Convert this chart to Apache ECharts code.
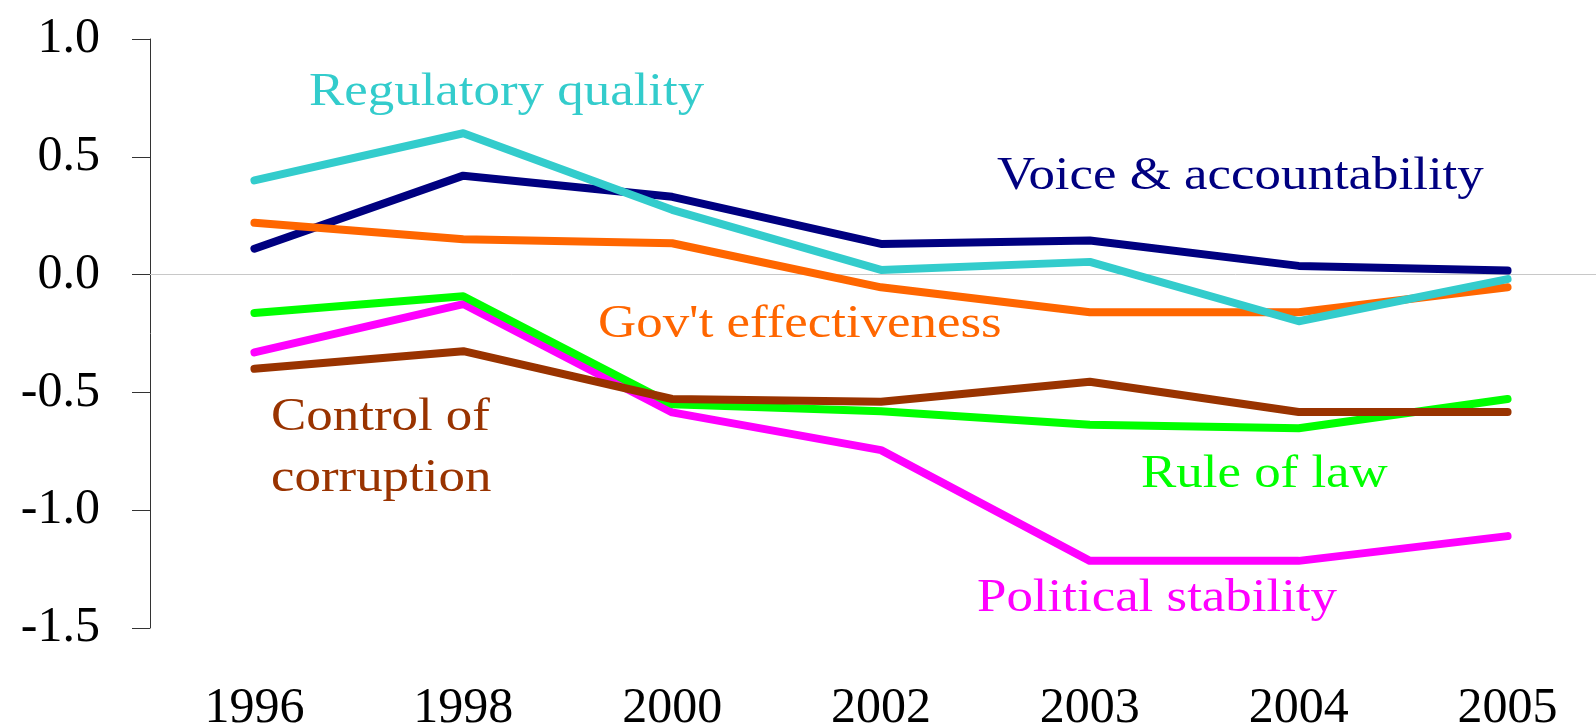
<!DOCTYPE html>
<html>
<head>
<meta charset="utf-8">
<title>Governance indicators 1996-2005</title>
<script src="https://cdn.jsdelivr.net/npm/echarts@6/dist/echarts.min.js"></script>
<style>
  html, body { margin: 0; padding: 0; background: #fff; }
  #chart { width: 1596px; height: 725px; }
</style>
</head>
<body>
<div id="chart"></div>
<script>
// years on the x axis (categories, evenly spaced)
const years = ['1996', '1998', '2000', '2002', '2003', '2004', '2005'];

// governance scores
const voice      = [0.11, 0.42, 0.33, 0.13, 0.145, 0.037, 0.017];
const stability  = [-0.33, -0.125, -0.585, -0.745, -1.215, -1.215, -1.11];
const govEff     = [0.22, 0.15, 0.133, -0.054, -0.16, -0.16, -0.054];
const regulatory = [0.40, 0.60, 0.275, 0.02, 0.054, -0.198, -0.019];
const ruleOfLaw  = [-0.163, -0.092, -0.55, -0.58, -0.637, -0.652, -0.528];
const corruption = [-0.40, -0.325, -0.528, -0.54, -0.455, -0.583, -0.583];

const Y_MIN = -1.5;
const Y_MAX = 1.0;
const Y_STEP = 0.5;

const FONT = "'Liberation Serif', 'Times New Roman', serif";

// the original labels are letter-spaced; a horizontal stretch gets close
const LABEL_STRETCH = 1.15;

const seriesDefs = [
  {name: 'Voice & accountability', color: '#000080', data: voice,
    label: ['Voice & accountability'], left: 997, top: 146},
  {name: 'Political stability', color: '#ff00ff', data: stability,
    label: ['Political stability'], left: 977, top: 568},
  {name: "Gov't effectiveness", color: '#ff6600', data: govEff,
    label: ["Gov't effectiveness"], left: 598, top: 294},
  {name: 'Regulatory quality', color: '#33cccc', data: regulatory,
    label: ['Regulatory quality'], left: 309, top: 62},
  {name: 'Rule of law', color: '#00ff00', data: ruleOfLaw,
    label: ['Rule of law'], left: 1141, top: 444},
  {name: 'Control of corruption', color: '#993300', data: corruption,
    label: ['Control of', 'corruption'], left: 271, top: 387},
];

const chart = echarts.init(document.getElementById('chart'));

chart.setOption({
  animation: false,
  backgroundColor: '#ffffff',
  grid: {
    left: 150, right: -16, top: 39, bottom: 97,
    containLabel: false,
    outerBoundsMode: 'none',
  },
  xAxis: {
    type: 'category',
    data: years,
    boundaryGap: true,
    axisLine: {show: false},
    axisTick: {show: false},
    splitLine: {show: false},
    axisLabel: {color: '#000', fontSize: 50, fontFamily: FONT, margin: 56},
  },
  yAxis: {
    type: 'value',
    min: Y_MIN,
    max: Y_MAX,
    interval: Y_STEP,
    axisLine: {show: true, lineStyle: {color: '#333', width: 1}},
    axisTick: {show: true, inside: false, length: 18, lineStyle: {color: '#333', width: 1}},
    splitLine: {show: false},
    axisLabel: {
      color: '#000', fontSize: 50, fontFamily: FONT, margin: 50,
      formatter: v => v.toFixed(1),
    },
  },
  graphic: seriesDefs.map(s => ({
    type: 'text',
    left: s.left,
    top: s.top,
    scaleX: LABEL_STRETCH,
    silent: true,
    style: {
      text: s.label.join('\n'),
      fill: s.color,
      font: `46px ${FONT}`,
      lineHeight: 61,
    },
  })),
  series: seriesDefs.map((s, i) => ({
    name: s.name,
    type: 'line',
    data: s.data,
    symbol: 'none',
    z: 2 + i,
    lineStyle: {color: s.color, width: 8, cap: 'round', join: 'round'},
    // thin grey zero line rides on the first series
    ...(i === 0 ? {
      markLine: {
        silent: true,
        symbol: 'none',
        label: {show: false},
        lineStyle: {color: '#c8c8c8', width: 1, type: 'solid'},
        data: [{yAxis: 0}],
        z: 1,
      },
    } : {}),
  })),
});
</script>
</body>
</html>
